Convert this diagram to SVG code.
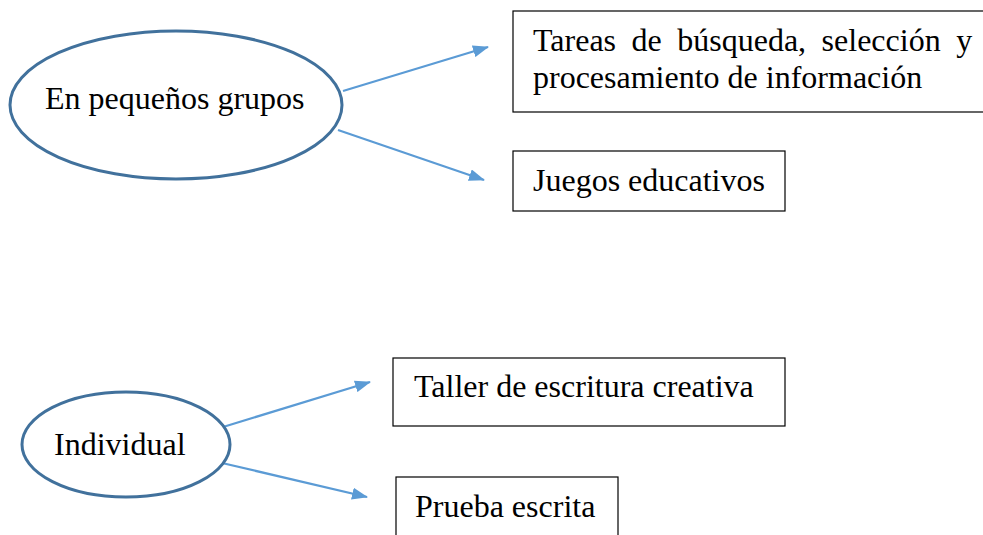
<svg xmlns="http://www.w3.org/2000/svg" width="983" height="535" viewBox="0 0 983 535">
<style>
.el{fill:#fff;stroke:#41719c;stroke-width:3}
.bx{fill:#fff;stroke:#000;stroke-width:1.2}
.t{font-family:"Liberation Serif","Times New Roman",serif;font-size:32px;fill:#000}
.c{stroke:#5b9bd5;stroke-width:2.2;fill:none}
</style>
<defs>
<marker id="ah" viewBox="0 0 16 12" refX="15" refY="6" markerWidth="16" markerHeight="12" markerUnits="userSpaceOnUse" orient="auto">
<path d="M0,0 L16,6 L0,12 z" fill="#5b9bd5"/>
</marker>
</defs>
<rect width="983" height="535" fill="#fff"/>
<g id="connectors">
<line class="c" x1="343" y1="91" x2="488" y2="47" marker-end="url(#ah)"/>
<line class="c" x1="338" y1="130" x2="484" y2="180" marker-end="url(#ah)"/>
<line class="c" x1="223" y1="427" x2="370" y2="382" marker-end="url(#ah)"/>
<line class="c" x1="222" y1="463" x2="367" y2="497" marker-end="url(#ah)"/>
</g>
<g id="n-grupos">
<ellipse class="el" cx="176" cy="105" rx="166" ry="74"/>
<text class="t" x="45" y="109">En pequeños grupos</text>
</g>
<g id="n-tareas">
<rect class="bx" x="513" y="11" width="480" height="101"/>
<text class="t" x="533" y="51" word-spacing="7.5">Tareas de búsqueda, selección y</text>
<text class="t" x="533" y="88">procesamiento de información</text>
</g>
<g id="n-juegos">
<rect class="bx" x="513" y="151" width="272" height="60"/>
<text class="t" x="533" y="191">Juegos educativos</text>
</g>
<g id="n-individual">
<ellipse class="el" cx="126" cy="444.5" rx="104" ry="52.5"/>
<text class="t" x="54" y="455">Individual</text>
</g>
<g id="n-taller">
<rect class="bx" x="393" y="358" width="392" height="68"/>
<text class="t" x="414" y="397">Taller de escritura creativa</text>
</g>
<g id="n-prueba">
<rect class="bx" x="396" y="477" width="222" height="70"/>
<text class="t" x="415" y="517">Prueba escrita</text>
</g>
</svg>
